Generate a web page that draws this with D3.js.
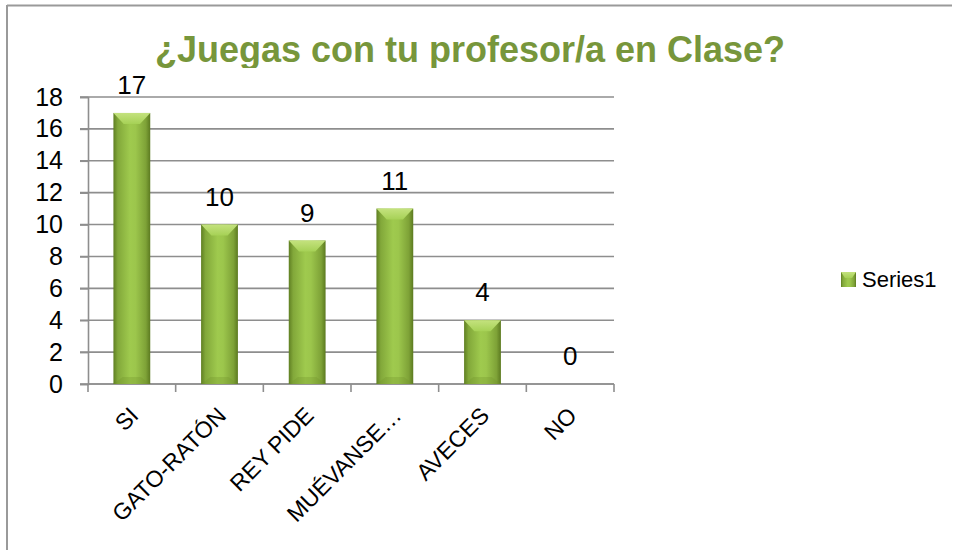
<!DOCTYPE html>
<html>
<head>
<meta charset="utf-8">
<script src="https://cdn.jsdelivr.net/npm/d3@7"></script>
<style>
  html, body { margin: 0; padding: 0; background: #fff; }
  svg { display: block; }
</style>
</head>
<body>
<div id="chart"></div>
<script>
// --- data ---
const categories = ["SI", "GATO-RATÓN", "REY PIDE", "MUÉVANSE…", "AVECES", "NO"];
const values = [17, 10, 9, 11, 4, 0];
const yTicks = [0, 2, 4, 6, 8, 10, 12, 14, 16, 18];
const seriesName = "Series1";
const title = "¿Juegas con tu profesor/a en Clase?";

const width = 953;
const height = 550;
const plot = { left: 88, right: 614, top: 97, bottom: 384 };

const svg = d3.select("#chart").append("svg")
  .attr("width", width)
  .attr("height", height);

const defs = svg.append("defs");

// horizontal shading of the bars (dark edges, light middle)
const grad = defs.append("linearGradient")
  .attr("id", "barGrad")
  .attr("x1", "0%").attr("x2", "100%").attr("y1", "0%").attr("y2", "0%");
grad.append("stop").attr("offset", "0%").attr("stop-color", "#5f7f22");
grad.append("stop").attr("offset", "12%").attr("stop-color", "#82a83a");
grad.append("stop").attr("offset", "45%").attr("stop-color", "#9fca4e");
grad.append("stop").attr("offset", "60%").attr("stop-color", "#9cc64c");
grad.append("stop").attr("offset", "88%").attr("stop-color", "#7ea237");
grad.append("stop").attr("offset", "100%").attr("stop-color", "#5c7a20");

const topGrad = defs.append("linearGradient")
  .attr("id", "topGrad")
  .attr("x1", "0%").attr("x2", "0%").attr("y1", "0%").attr("y2", "100%");
topGrad.append("stop").attr("offset", "0%").attr("stop-color", "#c4e27e");
topGrad.append("stop").attr("offset", "100%").attr("stop-color", "#a6d156");

defs.append("clipPath").attr("id", "titleClip")
  .append("rect").attr("x", 0).attr("y", 0).attr("width", width).attr("height", 68);

// outer frame (only top and left edges are visible)
svg.append("line")
  .attr("x1", 7).attr("x2", 952).attr("y1", 5.5).attr("y2", 5.5)
  .attr("stroke", "#9a9a9a").attr("stroke-width", 2);
svg.append("line")
  .attr("x1", 7).attr("x2", 7).attr("y1", 5).attr("y2", height)
  .attr("stroke", "#9a9a9a").attr("stroke-width", 2);

// scales
const x = d3.scaleBand()
  .domain(categories)
  .range([plot.left, plot.right])
  .padding(0);

const y = d3.scaleLinear()
  .domain([0, 18])
  .range([plot.bottom, plot.top]);

const gridColor = "#8e8e8e";

// gridlines
svg.append("g")
  .selectAll("line")
  .data(yTicks)
  .enter()
  .append("line")
  .attr("x1", plot.left - 8)
  .attr("x2", plot.right)
  .attr("y1", d => y(d))
  .attr("y2", d => y(d))
  .attr("stroke", gridColor)
  .attr("stroke-width", 1.6);

// y axis
const yAxis = svg.append("g")
  .attr("transform", `translate(${plot.left},0)`)
  .call(d3.axisLeft(y).tickValues(yTicks).tickSize(8).tickPadding(17));
yAxis.select(".domain").attr("stroke", gridColor).attr("stroke-width", 1.6);
yAxis.selectAll(".tick line").attr("stroke", gridColor).attr("stroke-width", 1.6);
yAxis.selectAll(".tick text")
  .attr("fill", "#000")
  .style("font-family", "'Liberation Sans Narrow', 'Liberation Sans', sans-serif")
  .style("font-size", "25px");

// x axis: ticks at the band boundaries
const xAxis = svg.append("g")
  .attr("transform", `translate(0,${plot.bottom})`);
xAxis.append("line")
  .attr("x1", plot.left).attr("x2", plot.right)
  .attr("stroke", gridColor).attr("stroke-width", 1.6);
const bounds = categories.map(c => x(c)).concat([x(categories[categories.length - 1]) + x.bandwidth()]);
xAxis.selectAll("line.tick")
  .data(bounds)
  .enter()
  .append("line")
  .attr("class", "tick")
  .attr("x1", d => d).attr("x2", d => d)
  .attr("y1", 0).attr("y2", 8)
  .attr("stroke", gridColor).attr("stroke-width", 1.6);

xAxis.selectAll("text")
  .data(categories)
  .enter()
  .append("text")
  .attr("transform", d => `translate(${x(d) + x.bandwidth() / 2 + 8},${33}) rotate(-45)`)
  .attr("text-anchor", "end")
  .attr("fill", "#000")
  .style("font-family", "'Liberation Sans', Arial, sans-serif")
  .style("font-size", "23px")
  .text(d => d);

// bars
const barW = x.bandwidth() * 0.42;
const bars = svg.append("g")
  .selectAll("g")
  .data(categories.map((c, i) => ({ c, v: values[i] })))
  .enter()
  .append("g")
  .attr("transform", d => `translate(${x(d.c) + (x.bandwidth() - barW) / 2},0)`);

bars.filter(d => d.v > 0).append("rect")
  .attr("x", 0)
  .attr("y", d => y(d.v))
  .attr("width", barW)
  .attr("height", d => y(0) - y(d.v))
  .attr("fill", "url(#barGrad)");

// bevel on top of each bar
bars.filter(d => d.v > 0).append("polygon")
  .attr("points", d => {
    const t = y(d.v);
    return [[0, t], [barW, t], [barW * 0.72, t + 11], [barW * 0.28, t + 11]].map(p => p.join(",")).join(" ");
  })
  .attr("fill", "url(#topGrad)");

// slightly darker bevel at the bottom
bars.filter(d => d.v > 0).append("polygon")
  .attr("points", () => {
    const b = y(0);
    return [[0, b], [barW, b], [barW * 0.75, b - 7], [barW * 0.25, b - 7]].map(p => p.join(",")).join(" ");
  })
  .attr("fill", "#6f912c")
  .attr("opacity", 0.3);

// data labels
bars.append("text")
  .attr("x", barW / 2)
  .attr("y", d => y(d.v) - 19)
  .attr("text-anchor", "middle")
  .attr("fill", "#000")
  .style("font-family", "'Liberation Sans Narrow', 'Liberation Sans', sans-serif")
  .style("font-size", "26px")
  .text(d => d.v);

// title (descenders are cut off in the original)
svg.append("text")
  .attr("clip-path", "url(#titleClip)")
  .attr("x", 470)
  .attr("y", 62)
  .attr("text-anchor", "middle")
  .attr("fill", "#77963b")
  .style("font-family", "'Liberation Sans', Arial, sans-serif")
  .style("font-weight", "bold")
  .style("font-size", "36px")
  .text(title);

// legend
const legend = svg.append("g").attr("transform", "translate(841,272)");
legend.append("rect")
  .attr("width", 15).attr("height", 15)
  .attr("fill", "url(#barGrad)");
legend.append("polygon")
  .attr("points", "0,0 15,0 11,6 4,6")
  .attr("fill", "url(#topGrad)");
legend.append("text")
  .attr("x", 21)
  .attr("y", 15)
  .attr("fill", "#000")
  .style("font-family", "'Liberation Sans', Arial, sans-serif")
  .style("font-size", "22px")
  .text(seriesName);
</script>
</body>
</html>
